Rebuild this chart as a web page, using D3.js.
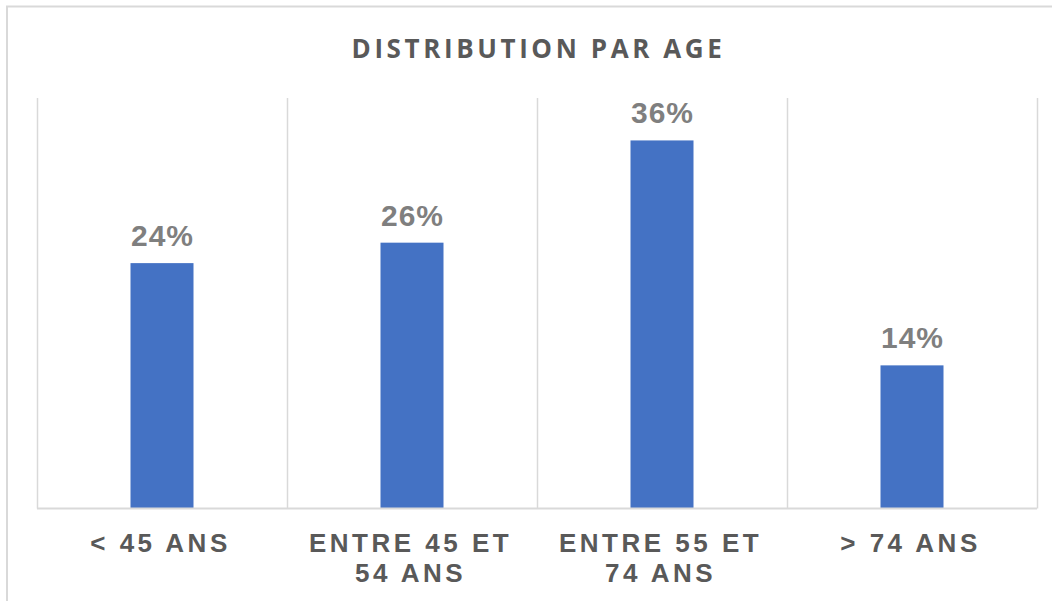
<!DOCTYPE html>
<html>
<head>
<meta charset="utf-8">
<script src="https://cdn.jsdelivr.net/npm/d3@7"></script>
<style>
  html, body { margin: 0; padding: 0; background: #fff; }
  svg { display: block; }
</style>
</head>
<body>
<script>
// Age distribution, percent of total
const categories = [["< 45 ANS"], ["ENTRE 45 ET", "54 ANS"], ["ENTRE 55 ET", "74 ANS"], ["> 74 ANS"]];
const values = [24, 26, 36, 14];
const title = "DISTRIBUTION PAR AGE";

const W = 1052, H = 601;
const plot = { left: 37, right: 1037, top: 98, bottom: 508.5 };

const svg = d3.select("body").append("svg").attr("width", W).attr("height", H);

// chart frame
svg.append("rect")
  .attr("x", 7).attr("y", 6.5).attr("width", 1200).attr("height", 800)
  .attr("fill", "none").attr("stroke", "#D9D9D9").attr("stroke-width", 2);

const keys = categories.map((c, i) => i);
const x = d3.scaleBand().domain(keys).range([plot.left, plot.right]).padding(0);
const y = d3.scaleLinear().domain([0, 40.15]).range([plot.bottom, plot.top]);

// vertical category gridlines
const edges = keys.map(k => x(k)).concat([plot.right]);
svg.append("g").selectAll("line").data(edges).join("line")
  .attr("x1", d => Math.round(d) + 0.5).attr("x2", d => Math.round(d) + 0.5)
  .attr("y1", plot.top).attr("y2", plot.bottom)
  .attr("stroke", "#D9D9D9").attr("stroke-width", 1.5);

// bars
const barW = x.bandwidth() * 0.252;
svg.append("g").selectAll("rect").data(values).join("rect")
  .attr("x", (d, i) => x(i) + (x.bandwidth() - barW) / 2)
  .attr("y", d => y(d))
  .attr("width", barW)
  .attr("height", d => y(0) - y(d))
  .attr("fill", "#4472C4");

// baseline
svg.append("line")
  .attr("x1", plot.left).attr("x2", plot.right)
  .attr("y1", plot.bottom).attr("y2", plot.bottom)
  .attr("stroke", "#D9D9D9").attr("stroke-width", 2);

// value labels
const vls = 1;
svg.append("g").selectAll("text").data(values).join("text")
  .attr("x", (d, i) => x(i) + x.bandwidth() / 2 + vls / 2)
  .attr("y", d => y(d) - 17)
  .attr("text-anchor", "middle")
  .attr("font-family", "Liberation Sans, Arial, sans-serif")
  .attr("font-weight", "bold")
  .attr("font-size", 30)
  .attr("letter-spacing", vls)
  .attr("fill", "#7F7F7F")
  .text(d => d + "%");

// category labels
const ls = 3.5;
const cat = svg.append("g").selectAll("text").data(categories).join("text")
  .attr("text-anchor", "middle")
  .attr("font-family", "Liberation Sans, Arial, sans-serif")
  .attr("font-weight", "bold")
  .attr("font-size", 26)
  .attr("letter-spacing", ls)
  .attr("fill", "#595959");
cat.each(function(lines, i) {
  d3.select(this).selectAll("tspan").data(lines).join("tspan")
    .attr("x", x(i) + x.bandwidth() / 2 - 1.5)
    .attr("y", (l, j) => 552 + j * 30)
    .text(l => l);
});

// title
svg.append("text")
  .attr("x", (plot.left + plot.right) / 2 + 1.5)
  .attr("y", 58)
  .attr("text-anchor", "middle")
  .attr("font-family", "Open Sans, sans-serif")
  .attr("font-weight", "bold")
  .attr("font-size", 26)
  .attr("letter-spacing", 3.6)
  .attr("fill", "#595959")
  .text(title);
</script>
</body>
</html>
